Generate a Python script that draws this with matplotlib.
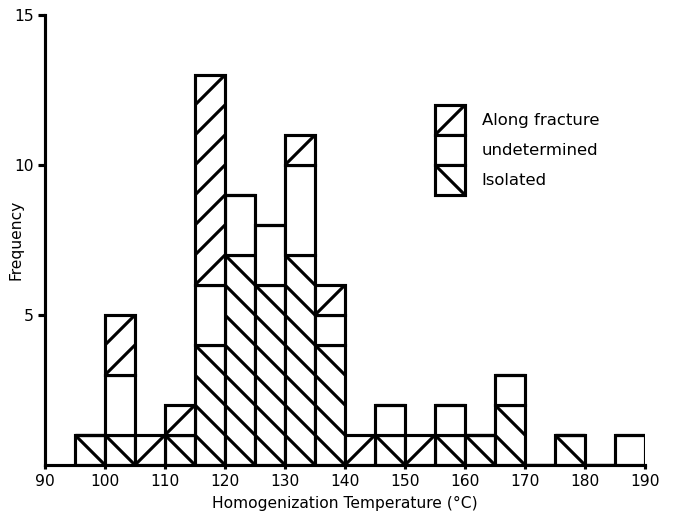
import matplotlib
matplotlib.use("Agg")
import matplotlib.pyplot as plt
from matplotlib.patches import Patch

# ---- data ----
bin_left = [95, 100, 105, 110, 115, 120, 125, 130, 135, 140,
            145, 150, 155, 160, 165, 170, 175, 180, 185]
bin_width = 5
isolated       = [1, 1, 0, 1, 4, 7, 6, 7, 4, 0, 1, 0, 1, 1, 2, 0, 1, 0, 0]
undetermined   = [0, 2, 0, 0, 2, 2, 2, 3, 1, 0, 1, 0, 1, 0, 1, 0, 0, 0, 1]
along_fracture = [0, 2, 1, 1, 7, 0, 0, 1, 1, 1, 0, 1, 0, 0, 0, 0, 0, 0, 0]
series_labels = ["Along fracture", "undetermined", "Isolated"]
x_ticks = list(range(90, 191, 10))
y_ticks = [5, 10, 15]

DPI = 180
W, H = 675, 515
LW = 1.25
plt.rcParams["hatch.linewidth"] = LW
plt.rcParams["hatch.color"] = "black"
plt.rcParams["font.family"] = ["DejaVu Sans"]
FS = 6.2

fig = plt.figure(figsize=(W / DPI, H / DPI), dpi=DPI)
# axes: 600 px for 90..190, 450 px for 0..15 (30 px per bin / per count)
ax = fig.add_axes([45 / W, 50 / H, 600 / W, 450 / H])

bottom_und = isolated
bottom_frac = [a + b for a, b in zip(isolated, undetermined)]

style = dict(width=bin_width, align="edge", color="white",
             edgecolor="black", linewidth=LW)
ax.bar(bin_left, isolated, hatch="\\\\", **style)
ax.bar(bin_left, undetermined, bottom=bottom_und, **style)
ax.bar(bin_left, along_fracture, bottom=bottom_frac, hatch="//", **style)

ax.set_xlim(90, 190)
ax.set_ylim(0, 15)
ax.set_xticks(x_ticks)
ax.set_yticks(y_ticks)
for s in ("top", "right"):
    ax.spines[s].set_visible(False)
for s in ("left", "bottom"):
    ax.spines[s].set_linewidth(LW)
ax.tick_params(axis="both", direction="out", width=LW, labelsize=FS)
ax.tick_params(axis="y", length=3, pad=1.5)
ax.tick_params(axis="x", length=1.5, pad=2)

ax.set_xlabel("Homogenization Temperature (°C)", fontsize=FS, labelpad=3)
ax.set_ylabel("Frequency", fontsize=FS)
ax.yaxis.set_label_coords(-21 / 600, 0.5)

handles = [
    Patch(facecolor="white", edgecolor="black", linewidth=LW, hatch="//"),
    Patch(facecolor="white", edgecolor="black", linewidth=LW),
    Patch(facecolor="white", edgecolor="black", linewidth=LW, hatch="\\\\"),
]
fig.legend(handles, series_labels, loc="upper left",
           bbox_to_anchor=(435 / W, 1 - 105 / H), bbox_transform=fig.transFigure,
           frameon=False, fontsize=6.6, labelspacing=0.0,
           handlelength=30 / 16.5, handleheight=2.42, handletextpad=1.0,
           borderpad=0, borderaxespad=0)

fig.savefig("out.png", dpi=DPI)
